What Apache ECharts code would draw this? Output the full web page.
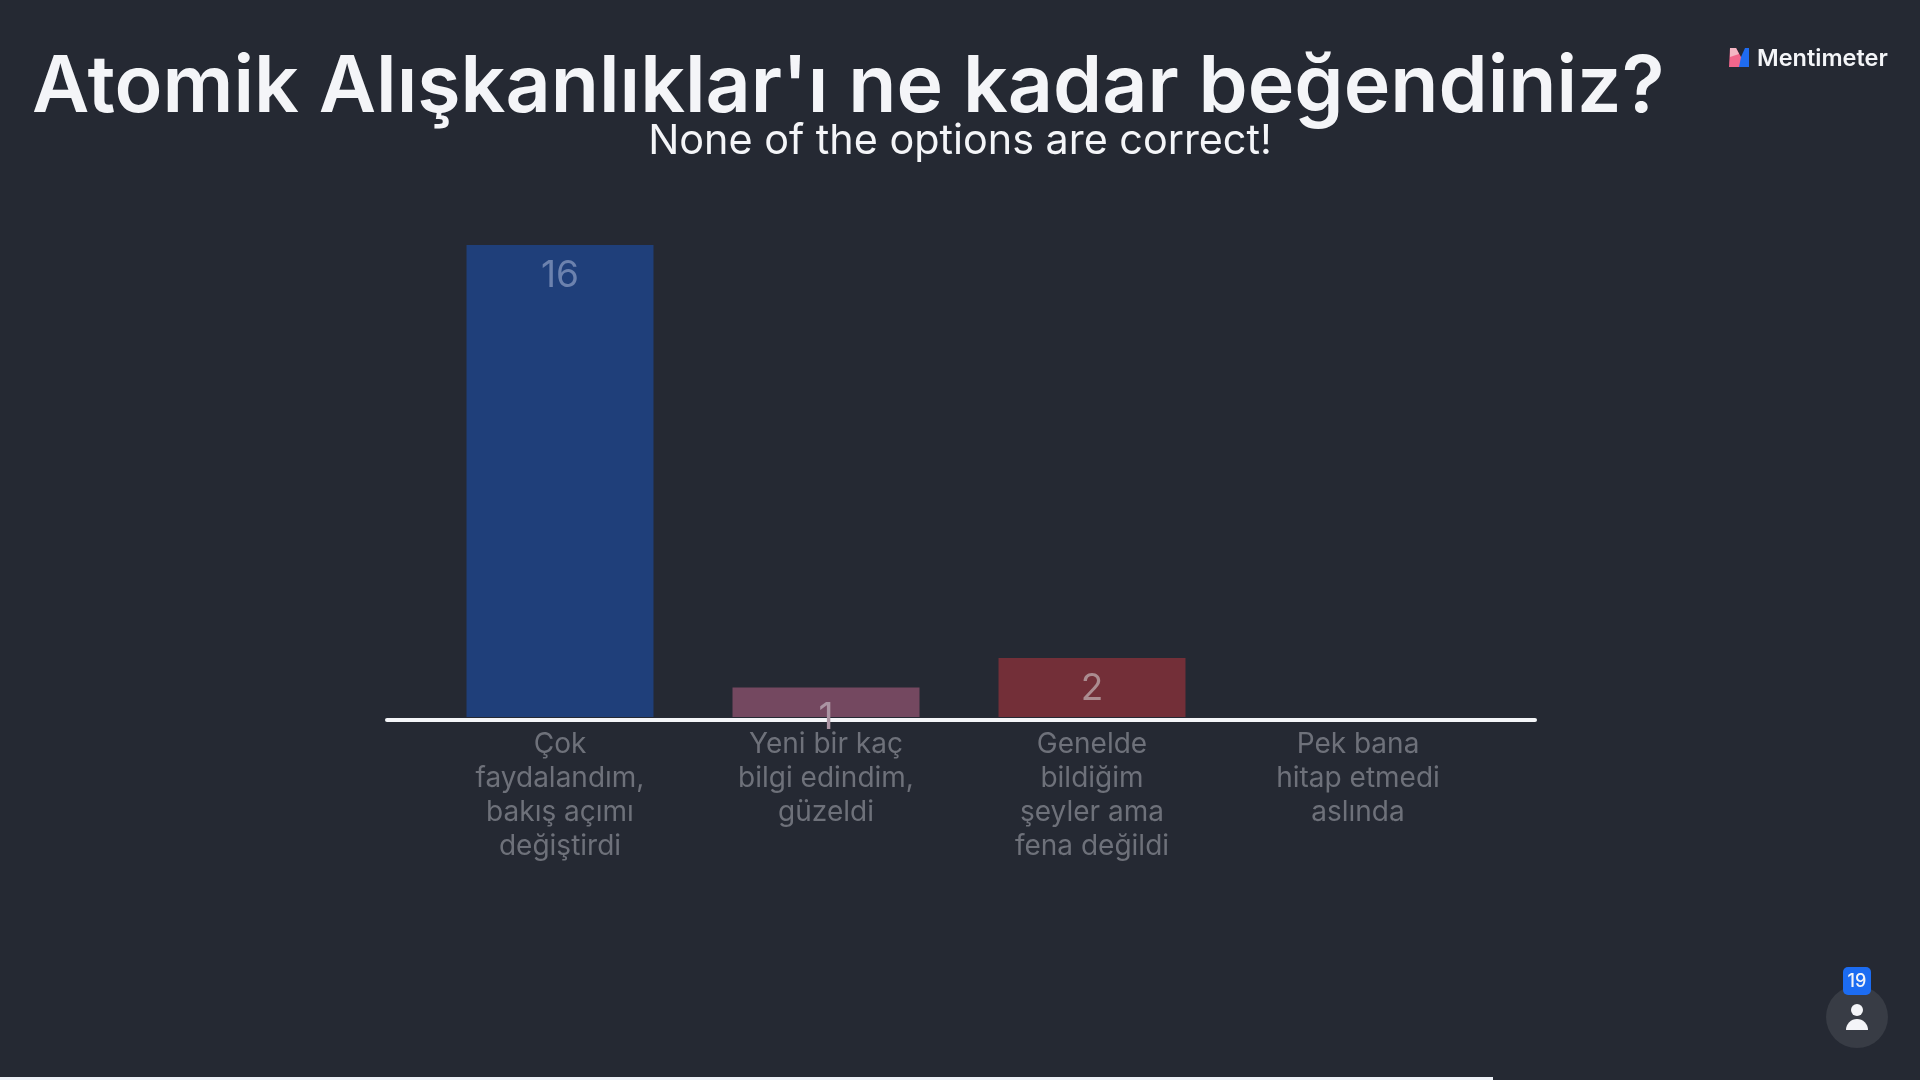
<!DOCTYPE html>
<html>
<head>
<meta charset="utf-8">
<title>Atomik Alışkanlıklar</title>
<style>
html,body{margin:0;padding:0;background:#252933;}
#main{width:1920px;height:1080px;}
</style>
<script src="https://cdn.jsdelivr.net/npm/echarts@6/dist/echarts.min.js"></script>
</head>
<body>
<div id="main"></div>
<script>
// data
var categories = ['Çok\nfaydalandım,\nbakış açımı\ndeğiştirdi', 'Yeni bir kaç\nbilgi edindim,\ngüzeldi', 'Genelde\nbildiğim\nşeyler ama\nfena değildi', 'Pek bana\nhitap etmedi\naslında'];
var votes = [16, 1, 2, 0];
var titleText = "Atomik Alışkanlıklar'ı ne kadar beğendiniz?";
var subtitleText = 'None of the options are correct!';
var participants = '19';

var barColors = ['#1f3f7a', '#744860', '#732f38', '#252933'];
var labelColors = ['#6c82ae', '#aa93a2', '#ab8c90', '#252933'];
var font = 'Inter';

var myChart = echarts.init(document.getElementById('main'));

var option = {
	backgroundColor: '#252933',
	animation: false,
	title: [
		{
			text: titleText, left: 27, top: 33,
			textStyle: {color: '#f4f5f8', fontFamily: font, fontSize: 78.8, fontWeight: 600, lineHeight: 100}
		},
		{
			text: subtitleText, left: 955, top: 112, textAlign: 'center',
			textStyle: {color: '#f4f5f8', fontFamily: font, fontSize: 41.3, fontWeight: 400, lineHeight: 50}
		}
	],
	grid: [
		{left: 427, width: 1064, top: 245, height: 472},
		// second grid only carries the long baseline
		{left: 387, width: 1148, top: 718.5, height: 1}
	],
	xAxis: [
		{
			type: 'category', gridIndex: 0, data: categories,
			axisLine: {show: false},
			axisTick: {show: false},
			axisLabel: {
				color: '#6e717a', fontFamily: font, fontSize: 28, lineHeight: 34,
				margin: 11, interval: 0
			}
		},
		{
			type: 'value', gridIndex: 1, min: 0, max: 1, position: 'bottom',
			splitLine: {show: false},
			axisTick: {show: false},
			axisLabel: {show: false},
			axisLine: {show: true, onZero: false, lineStyle: {color: '#f4f5f8', width: 4}}
		}
	],
	yAxis: [
		{type: 'value', gridIndex: 0, min: 0, max: 16, show: false},
		{type: 'value', gridIndex: 1, min: 0, max: 1, show: false}
	],
	series: [
		{
			type: 'bar',
			barWidth: 187,
			data: votes.map(function (v, i) {
				return {
					value: v,
					itemStyle: {color: barColors[i]},
					label: {color: labelColors[i]}
				};
			}),
			label: {
				show: true, position: 'insideTop', distance: 12,
				fontFamily: font, fontSize: 37,
				formatter: function (p) { return p.value ? p.value : ''; }
			}
		}
	],
	graphic: [
		// progress bar along the bottom edge
		{type: 'rect', shape: {x: 0, y: 1077, width: 1493, height: 3}, style: {fill: '#eef1f8'}},
		// logo
		{type: 'polygon', shape: {points: [[1730, 48], [1736, 48], [1741, 57], [1745, 67], [1729, 67]]}, style: {fill: '#f2668c'}},
		{type: 'polygon', shape: {points: [[1730, 48], [1736, 48], [1739, 54], [1730, 57]]}, style: {fill: '#f4b6c4'}},
		{type: 'polygon', shape: {points: [[1749, 48], [1749, 67], [1739, 67], [1741, 57], [1745, 48]]}, style: {fill: '#1f6bf0'}},
		{type: 'text', style: {x: 1757, y: 59, text: 'Mentimeter', fill: '#f4f5f8', font: '600 23.5px Inter', verticalAlign: 'middle'}},
		// participant counter
		{type: 'circle', shape: {cx: 1857, cy: 1017, r: 31}, style: {fill: '#383c45'}},
		{type: 'rect', shape: {x: 1843, y: 967, width: 28, height: 28, r: 5}, style: {fill: '#1c6cf2'}},
		{type: 'text', style: {x: 1857, y: 982, text: participants, fill: '#f4f5f8', font: '500 18px Inter', align: 'center', verticalAlign: 'middle'}},
		{type: 'circle', shape: {cx: 1857, cy: 1010, r: 6}, style: {fill: '#f4f5f8'}},
		{type: 'sector', shape: {cx: 1857, cy: 1030, r: 11, startAngle: Math.PI, endAngle: Math.PI * 2}, style: {fill: '#f4f5f8'}}
	]
};

myChart.setOption(option);
</script>
</body>
</html>
